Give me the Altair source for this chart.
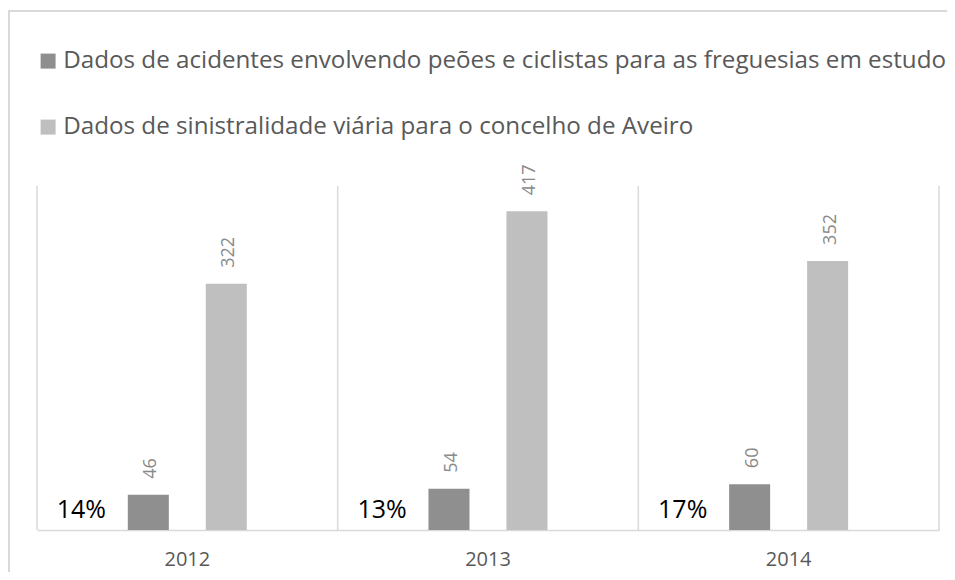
import altair as alt
import pandas as pd

years = ["2012", "2013", "2014"]
series = [
    "Dados de acidentes envolvendo peões e ciclistas para as freguesias em estudo",
    "Dados de sinistralidade viária para o concelho de Aveiro",
]
peoes = [46, 54, 60]
aveiro = [322, 417, 352]
percent = ["14%", "13%", "17%"]

rows = []
for i, y in enumerate(years):
    rows.append({"year": y, "series": series[0], "value": peoes[i]})
    rows.append({"year": y, "series": series[1], "value": aveiro[i]})
df = pd.DataFrame(rows)
pct_df = pd.DataFrame({"year": years, "pct": percent})
yr_df = pd.DataFrame({"year": years})

FONT = "Open Sans"
W, H = 902, 344

xenc = alt.X("year:N", sort=years,
             scale=alt.Scale(paddingInner=0, paddingOuter=0),
             axis=alt.Axis(title=None, labels=False, ticks=False,
                           domain=True, domainColor="#d9d9d9", domainWidth=1.5, grid=False))

xoff = alt.XOffset("series:N", sort=series,
                   scale=alt.Scale(range=[90.8, 209.8], paddingInner=0.474, paddingOuter=0))

yenc = alt.Y("value:Q", scale=alt.Scale(domain=[0, 450]), axis=None)

color = alt.Color("series:N", sort=series,
                  scale=alt.Scale(domain=series, range=["#8f8f8f", "#bfbfbf"]),
                  legend=alt.Legend(title=None, orient="none", legendX=-1, legendY=-137,
                                    direction="vertical", symbolType="square",
                                    symbolSize=225, symbolStrokeWidth=0,
                                    labelFont=FONT, labelFontSize=24.2,
                                    labelColor="#595959", labelOffset=3,
                                    rowPadding=41, padding=0, labelLimit=1000))

frame = alt.Chart(yr_df).mark_rect(fill="transparent", stroke="#d9d9d9", strokeWidth=2).encode(
    x=alt.value(-28), x2=alt.value(1000), y=alt.value(-175), y2=alt.value(700)
).transform_filter("datum.year == '2012'")

grid = alt.Chart(yr_df).mark_rule(color="#d9d9d9", strokeWidth=1.5).encode(
    x=alt.X("year:N", sort=years, bandPosition=0),
    y=alt.value(0), y2=alt.value(H)
)

right = alt.Chart(yr_df).mark_rule(color="#d9d9d9", strokeWidth=1.5).encode(
    x=alt.value(W), y=alt.value(0), y2=alt.value(H)
).transform_filter("datum.year == '2012'")

bars = alt.Chart(df).mark_bar().encode(x=xenc, xOffset=xoff, y=yenc, color=color)

labels = alt.Chart(df).mark_text(angle=270, align="left", baseline="middle", dx=16, dy=3,
                                 font=FONT, fontSize=18, color="#898989").encode(
    x=alt.X("year:N", sort=years), xOffset=xoff, y=yenc, text="value:Q"
)

pcts = alt.Chart(pct_df).mark_text(align="center", baseline="middle", dx=-106,
                                   font=FONT, fontSize=25, color="#000000").encode(
    x=alt.X("year:N", sort=years), y=alt.value(H - 20), text="pct:N"
)

year_labels = alt.Chart(yr_df).mark_text(align="center", baseline="middle",
                                         font=FONT, fontSize=20, color="#595959").encode(
    x=alt.X("year:N", sort=years), y=alt.value(H + 30), text="year:N"
)

chart = alt.layer(frame, grid, right, bars, labels, pcts, year_labels).properties(
    width=W, height=H,
    background="white",
    autosize=alt.AutoSizeParams(type="none"),
    padding={"left": 29, "top": 178, "right": 8, "bottom": 42},
).configure_view(strokeWidth=0, stroke="transparent")

chart.save("out.html", embed_options={"renderer": "svg", "actions": False})
